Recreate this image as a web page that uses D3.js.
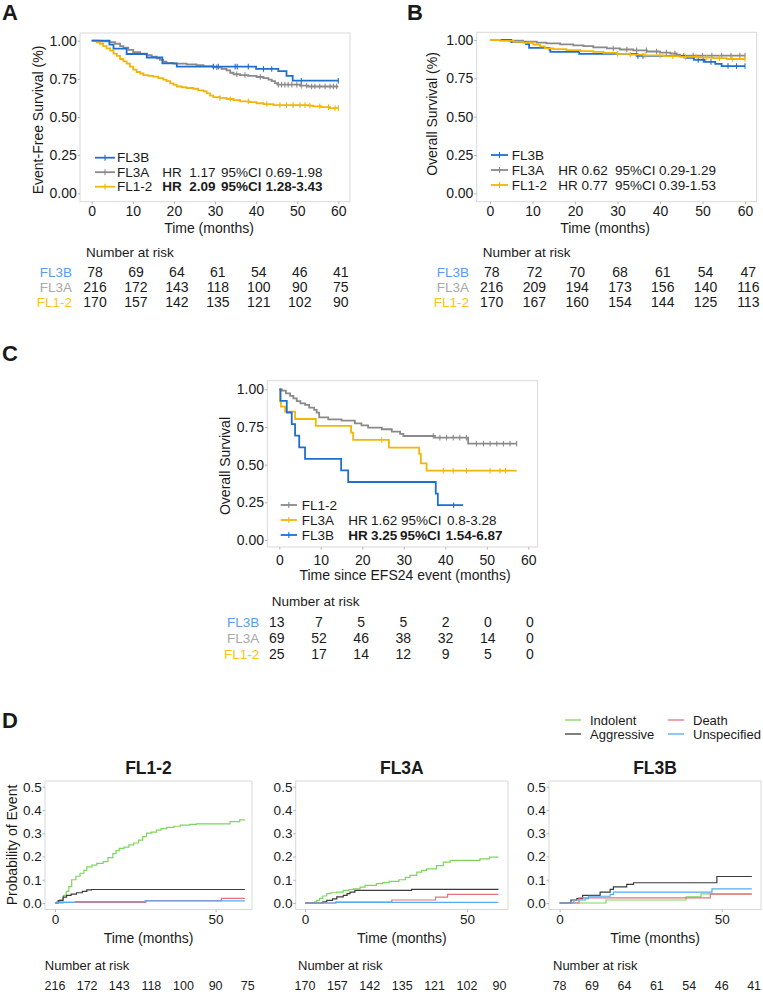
<!DOCTYPE html>
<html>
<head>
<meta charset="utf-8">
<script src="https://cdn.jsdelivr.net/npm/d3@7"></script>
<style>
  body { margin: 0; background: #fff; }
  text { font-family: "Liberation Sans", Arial, sans-serif; }
</style>
</head>
<body>
<svg id="fig" width="763" height="992" fill="#1a1a1a"></svg>
<script>
// ---- months shown on KM x axes / at-risk tables
const months = [0, 10, 20, 30, 40, 50, 60];

// ---- Panel A: event-free survival, [month, survival] at each step
const efsFL3B = [[0,1],[4.3,0.974],[5.3,0.948],[8.5,0.913],[13.4,0.89],[17.2,0.852],[20.7,0.83],[40,0.815],[45.4,0.80],[47.4,0.77],[48.9,0.738],[60,0.738]];
const efsFL3A = [[0,1],[2,0.995],[4.5,0.99],[5.7,0.98],[6.9,0.965],[7.7,0.955],[8.9,0.94],[10.1,0.925],[11.8,0.915],[13.4,0.905],[14.6,0.895],[15.8,0.885],[16.6,0.875],[17.4,0.862],[18.2,0.855],[19.9,0.85],[23.1,0.845],[25.5,0.84],[27.2,0.833],[29.6,0.826],[31.6,0.815],[32.8,0.805],[33.7,0.79],[34.5,0.78],[36.1,0.775],[38.1,0.77],[40.1,0.762],[41.8,0.755],[43,0.745],[43.8,0.735],[44.6,0.722],[45.2,0.712],[50.7,0.705],[52.7,0.70],[60,0.70]];
const efsFL12 = [[0,1],[1.2,0.99],[2,0.98],[2.8,0.965],[3.6,0.95],[4.5,0.935],[5.3,0.915],[6.1,0.90],[6.9,0.88],[7.7,0.865],[8.5,0.85],[9.3,0.83],[10.1,0.81],[10.9,0.795],[11.8,0.785],[12.6,0.775],[13.8,0.77],[15,0.765],[16.2,0.755],[17.4,0.745],[18.2,0.735],[19.1,0.72],[19.9,0.71],[20.7,0.70],[21.9,0.695],[23.1,0.69],[24.7,0.685],[25.9,0.675],[27.2,0.668],[28,0.655],[28.8,0.64],[29.6,0.63],[31.2,0.625],[32.8,0.618],[34.5,0.61],[36.1,0.603],[38.5,0.597],[40.1,0.59],[41.8,0.585],[44.2,0.578],[52.7,0.575],[53.9,0.57],[55.9,0.565],[58,0.558],[60,0.558]];
const efsCensFL3B = [29.6,30.8,34.9,35.4,38.1,41.8,43.8,51,60];
const efsCensFL3A = [30.4,35.3,37.3,41,45.4,46.2,47,47.8,48.7,49.9,51,52.3,53.5,54.3,55.5,56.8,58,58.8,59.6];
const efsCensFL12 = [31.2,33.7,38.1,42.6,45.8,47.4,49,50.7,51.9,53.1,55.5,57.6,59.2,60];
const efsRiskFL3B = [78,69,64,61,54,46,41];
const efsRiskFL3A = [216,172,143,118,100,90,75];
const efsRiskFL12 = [170,157,142,135,121,102,90];

// ---- Panel B: overall survival
const osFL3B = [[0,1],[5,0.987],[8.5,0.974],[9.2,0.948],[14,0.935],[14.2,0.922],[21,0.909],[34.5,0.896],[46,0.883],[48,0.87],[50.5,0.857],[53,0.844],[54.5,0.83],[60,0.83]];
const osFL3A = [[0,1],[4.7,0.995],[7.8,0.99],[11,0.983],[13.3,0.978],[16.5,0.972],[19.6,0.965],[22,0.96],[24.3,0.952],[27.5,0.945],[30.6,0.938],[33.7,0.932],[36.9,0.925],[40,0.918],[42.4,0.912],[43.9,0.905],[44.7,0.898],[60,0.898]];
const osFL12 = [[0,1],[2.4,0.994],[5.5,0.988],[7.8,0.982],[10.2,0.97],[11.8,0.958],[12.9,0.946],[14.9,0.94],[18,0.934],[21.2,0.928],[24.3,0.922],[26.7,0.916],[29.8,0.91],[32.9,0.905],[36.1,0.90],[40.8,0.895],[44.7,0.89],[49.4,0.885],[52.5,0.882],[55.7,0.876],[60,0.876]];
const osCensFL3B = [34.8,36,49,50.2,52,56,58,60];
const osCensFL3A = [29,32.2,34.5,36.8,39.2,41.5,43.5,45.6,47.8,50,52.2,54.5,56.7,58.8,60];
const osCensFL12 = [30,33,36.5,40,43,46,48.5,51,54,57,60];
const osRiskFL3B = [78,72,70,68,61,54,47];
const osRiskFL3A = [216,209,194,173,156,140,116];
const osRiskFL12 = [170,167,160,154,144,125,113];

// ---- Panel C: overall survival since EFS24 event
const postFL12 = [[0,1],[0.6,0.991],[1.6,0.973],[2.6,0.956],[3.4,0.94],[4.2,0.922],[5.1,0.907],[6.2,0.896],[7.2,0.878],[8.4,0.863],[9,0.845],[9.6,0.814],[11.8,0.80],[15,0.792],[18.2,0.774],[19.8,0.761],[21.4,0.746],[24.7,0.735],[27.1,0.719],[29.1,0.704],[29.9,0.69],[37.5,0.679],[45.5,0.639],[57.2,0.639]];
const postFL3A = [[0,1],[0.2,0.92],[0.4,0.885],[1.4,0.852],[3.8,0.803],[8.8,0.757],[17.3,0.712],[17.8,0.664],[26.4,0.613],[33.7,0.571],[34.1,0.509],[35.5,0.46],[57.2,0.46]];
const postFL3B = [[0,1],[0.3,0.923],[1.8,0.846],[3,0.769],[3.8,0.692],[4.8,0.615],[6.2,0.538],[14.9,0.462],[16.6,0.385],[37.7,0.308],[38.2,0.231],[44.3,0.231]];
const postCensFL12 = [37.1,38.7,40.3,41.9,43.5,45.1,47.5,49.2,50.8,52.4,54,55.6,57.2];
const postCensFL3A = [24.7,39.5,41.9,45.1,50.8,53.2,54.5];
const postCensFL3B = [42];
const postRiskFL3B = [13,7,5,5,2,0,0];
const postRiskFL3A = [69,52,46,38,32,14,0];
const postRiskFL12 = [25,17,14,12,9,5,0];

// ---- Panel D: cumulative incidence of event type, [month, probability]
const indFL12 = [[0,0],[0.5,0.005],[1.5,0.015],[2.6,0.033],[3.5,0.05],[4.3,0.07],[5.2,0.1],[6.5,0.115],[7.8,0.128],[9,0.14],[9.9,0.155],[11.5,0.163],[13,0.17],[15,0.178],[16.5,0.195],[18,0.212],[19,0.225],[20,0.235],[21.5,0.24],[23,0.25],[24.5,0.258],[26,0.27],[27.3,0.285],[28.5,0.3],[30,0.305],[31.6,0.313],[33,0.32],[34.8,0.325],[37,0.33],[39,0.335],[42,0.338],[44,0.34],[54.5,0.35],[57.5,0.357],[59.1,0.357]];
const aggFL12 = [[0,0],[1,0.01],[2.5,0.025],[3.6,0.033],[5,0.038],[6.7,0.044],[8.5,0.05],[9.9,0.056],[11.4,0.058],[59.1,0.058]];
const deaFL12 = [[0,0],[2.5,0.003],[28.3,0.01],[51.8,0.02],[59.1,0.02]];
const unsFL12 = [[0,0],[1,0.003],[6.4,0.006],[28,0.009],[59.1,0.009]];
const indFL3A = [[0,0],[3,0.005],[3.6,0.011],[4.5,0.02],[5.5,0.03],[6.7,0.04],[8,0.044],[9.8,0.047],[11.8,0.054],[13.5,0.058],[15,0.061],[17,0.068],[18.5,0.076],[22,0.083],[24,0.088],[26,0.093],[29,0.1],[31,0.11],[32.4,0.119],[34.5,0.133],[36,0.14],[37.5,0.147],[40.6,0.161],[42.7,0.176],[44.8,0.183],[54,0.19],[57,0.197],[59.7,0.197]];
const aggFL3A = [[0,0],[5.5,0.005],[6.7,0.011],[8.5,0.018],[9.8,0.026],[11.8,0.033],[13,0.04],[13.9,0.047],[15.4,0.054],[32.9,0.059],[59.7,0.059]];
const deaFL3A = [[0,0],[9.5,0.004],[26.8,0.013],[40.3,0.025],[44,0.037],[59.7,0.037]];
const unsFL3A = [[0,0],[9.5,0.003],[59.7,0.003]];
const indFL3B = [[0,0],[14.3,0.013],[39,0.026],[43.6,0.039],[59.3,0.039]];
const aggFL3B = [[0,0],[3.5,0.013],[5.3,0.019],[7.1,0.033],[12.5,0.047],[15.6,0.059],[16.6,0.069],[20.7,0.08],[22.8,0.087],[48.5,0.114],[59.3,0.114]];
const deaFL3B = [[0,0],[6,0.022],[46.5,0.038],[59.3,0.038]];
const unsFL3B = [[0,0],[4.4,0.013],[7.9,0.019],[8.9,0.029],[15.6,0.037],[16.6,0.047],[47,0.061],[59.3,0.061]];
const cifRiskPanel1 = [216,172,143,118,100,90,75];
const cifRiskPanel2 = [170,157,142,135,121,102,90];
const cifRiskPanel3 = [78,69,64,61,54,46,41];

// ---- colours
const COL = { fl3b: "#1f6fd1", fl3a: "#8a8a8a", fl12: "#f2b60a" };
const LBL = { fl3b: "#5b9cf0", fl3a: "#a9a9a9", fl12: "#fcc21c" };
const CIF = { ind: "#7dd65c", agg: "#3b3b3b", dea: "#e8707f", uns: "#56abf2" };

const svg = d3.select("#fig");

// value of a step curve at time t
const stepAt = (curve, t) => {
  const i = d3.bisector(d => d[0]).right(curve, t) - 1;
  return curve[Math.max(0, i)][1];
};

const label = (txt, x, y) =>
  svg.append("text").attr("x", x).attr("y", y)
    .attr("font-size", 22).attr("font-weight", "bold").text(txt);

const yTitle = (txt, cx, cy, size) =>
  svg.append("text").attr("transform", `translate(${cx},${cy}) rotate(-90)`)
    .attr("text-anchor", "middle").attr("dy", "0.35em")
    .attr("font-size", size).text(txt);

const xTitle = (txt, cx, cy, size) =>
  svg.append("text").attr("x", cx).attr("y", cy).attr("dy", "0.35em")
    .attr("text-anchor", "middle").attr("font-size", size).text(txt);

function styleAxis(g, size) {
  g.select(".domain").remove();
  g.selectAll(".tick line").attr("stroke", "#b5b5b5");
  g.selectAll(".tick text").attr("font-size", size).attr("fill", "#1a1a1a");
}

// Kaplan-Meier panel
function kmPanel(o) {
  const x = d3.scaleLinear().domain([0, 60]).range(o.xr);
  const y = d3.scaleLinear().domain([0, 1]).range(o.yr);
  const [bx0, by0, bx1, by1] = o.box;
  const g = svg.append("g");

  g.append("rect")
    .attr("x", bx0).attr("y", by0)
    .attr("width", bx1 - bx0).attr("height", by1 - by0)
    .attr("fill", "#fff").attr("stroke", "#d9d9d9");

  g.append("g").attr("transform", `translate(${bx0},0)`)
    .call(d3.axisLeft(y).tickValues([0, 0.25, 0.5, 0.75, 1]).tickFormat(d3.format(".2f")).tickSize(2.5).tickPadding(0.8))
    .call(a => styleAxis(a, 14));
  g.append("g").attr("transform", `translate(0,${by1})`)
    .call(d3.axisBottom(x).tickValues(months).tickSize(2.5).tickPadding(o.xpad))
    .call(a => styleAxis(a, 14));

  const line = d3.line().x(d => x(d[0])).y(d => y(d[1])).curve(d3.curveStepAfter);
  o.series.forEach(s => {
    g.append("path").attr("d", line(s.data))
      .attr("fill", "none").attr("stroke", s.color).attr("stroke-width", 1.8);
    g.selectAll(null).data(s.cens).join("line")
      .attr("x1", t => x(t)).attr("x2", t => x(t))
      .attr("y1", t => y(stepAt(s.data, t)) - 2.8)
      .attr("y2", t => y(stepAt(s.data, t)) + 2.8)
      .attr("stroke", s.color).attr("stroke-width", 1.1);
  });

  // legend
  const L = o.legend;
  L.rows.forEach((r, i) => {
    const yy = L.y0 + i * L.dy;
    g.append("line").attr("x1", L.x0).attr("x2", L.x1).attr("y1", yy).attr("y2", yy)
      .attr("stroke", r.color).attr("stroke-width", 1.8);
    const mx = (L.x0 + L.x1) / 2;
    g.append("line").attr("x1", mx).attr("x2", mx).attr("y1", yy - 3).attr("y2", yy + 3)
      .attr("stroke", r.color).attr("stroke-width", 1.1);
    g.append("text").attr("x", L.tx).attr("y", yy).attr("dy", "0.35em")
      .attr("font-size", 13.5).text(r.name);
    if (r.hr) {
      const px = r.px || L.px;
      ["HR", r.hr, "95%CI", r.ci].forEach((p, j) => {
        g.append("text").attr("x", px[j]).attr("y", yy).attr("dy", "0.35em")
          .attr("font-size", 13.5).attr("font-weight", r.bold ? "bold" : null).text(p);
      });
    }
  });
}

// number-at-risk table
function riskTable(o) {
  const x = d3.scaleLinear().domain([0, 60]).range(o.xr);
  svg.append("text").attr("x", o.tx).attr("y", o.ty).attr("dy", "0.35em")
    .attr("font-size", 13.5).text("Number at risk");
  o.rows.forEach((r, i) => {
    const yy = o.y0 + i * o.dy;
    svg.append("text").attr("x", o.lx).attr("y", yy).attr("dy", "0.35em")
      .attr("text-anchor", "end").attr("font-size", 13.5).attr("fill", r.color).text(r.name);
    svg.selectAll(null).data(r.vals).join("text")
      .attr("x", (v, j) => x(months[j])).attr("y", yy).attr("dy", "0.35em")
      .attr("text-anchor", "middle").attr("font-size", 14).text(v => v);
  });
}

// cumulative incidence panel
function cifPanel(o) {
  const x = d3.scaleLinear().domain([0, 50]).range(o.xr);
  const y = d3.scaleLinear().domain([0, 0.5]).range([903, 786.7]);
  const [bx0, by0, bx1, by1] = o.box;
  const g = svg.append("g");
  g.append("rect")
    .attr("x", bx0).attr("y", by0)
    .attr("width", bx1 - bx0).attr("height", by1 - by0)
    .attr("fill", "#fff").attr("stroke", "#d9d9d9");
  g.append("g").attr("transform", `translate(${bx0},0)`)
    .call(d3.axisLeft(y).tickValues([0, 0.1, 0.2, 0.3, 0.4, 0.5]).tickFormat(d3.format(".1f")).tickSize(2.5).tickPadding(0.8))
    .call(a => styleAxis(a, 13.5));
  g.append("g").attr("transform", `translate(0,${by1})`)
    .call(d3.axisBottom(x).tickValues([0, 50]).tickSize(2.5).tickPadding(2))
    .call(a => styleAxis(a, 13.5));

  const line = d3.line().x(d => x(d[0])).y(d => y(d[1])).curve(d3.curveStepAfter);
  o.series.forEach(s => {
    g.append("path").attr("d", line(s.data))
      .attr("fill", "none").attr("stroke", s.color).attr("stroke-width", 1.2);
  });

  g.append("text").attr("x", (bx0 + bx1) / 2).attr("y", 768).attr("dy", "0.35em")
    .attr("text-anchor", "middle").attr("font-size", 17.5).attr("font-weight", "bold").text(o.title);
  xTitle("Time (months)", (bx0 + bx1) / 2, 938, 14);

  svg.append("text").attr("x", o.rtx).attr("y", 965).attr("dy", "0.35em")
    .attr("font-size", 13).text("Number at risk");
  svg.selectAll(null).data(o.risk).join("text")
    .attr("x", (v, j) => x(months[j])).attr("y", 986).attr("dy", "0.35em")
    .attr("text-anchor", "middle").attr("font-size", 12.5).text(v => v);
}

// ===== Panel A =====
label("A", 2, 20);
kmPanel({
  box: [80, 33, 350, 201.7], xr: [91.7, 338.3], yr: [193.3, 40.7], xpad: 2,
  series: [
    { data: efsFL3A, cens: efsCensFL3A, color: COL.fl3a },
    { data: efsFL12, cens: efsCensFL12, color: COL.fl12 },
    { data: efsFL3B, cens: efsCensFL3B, color: COL.fl3b }
  ],
  legend: {
    x0: 95, x1: 115, tx: 117, y0: 157.7, dy: 14.5, px: [162.3, 189.3, 221, 265.5],
    rows: [
      { name: "FL3B", color: COL.fl3b },
      { name: "FL3A", color: COL.fl3a, hr: "1.17", ci: "0.69-1.98" },
      { name: "FL1-2", color: COL.fl12, hr: "2.09", ci: "1.28-3.43", bold: true }
    ]
  }
});
yTitle("Event-Free Survival (%)", 38, 120, 14);
xTitle("Time (months)", 209, 228, 14);
riskTable({
  xr: [95, 340.7], tx: 86, ty: 252, lx: 72, y0: 272, dy: 15,
  rows: [
    { name: "FL3B", color: LBL.fl3b, vals: efsRiskFL3B },
    { name: "FL3A", color: LBL.fl3a, vals: efsRiskFL3A },
    { name: "FL1-2", color: LBL.fl12, vals: efsRiskFL12 }
  ]
});

// ===== Panel B =====
label("B", 407, 20);
kmPanel({
  box: [476.7, 32.3, 756.7, 201.7], xr: [490, 745], yr: [193.3, 40], xpad: 2,
  series: [
    { data: osFL3A, cens: osCensFL3A, color: COL.fl3a },
    { data: osFL3B, cens: osCensFL3B, color: COL.fl3b },
    { data: osFL12, cens: osCensFL12, color: COL.fl12 }
  ],
  legend: {
    x0: 491, x1: 508, tx: 511.7, y0: 155, dy: 15, px: [558.3, 581.5, 615, 659],
    rows: [
      { name: "FL3B", color: COL.fl3b },
      { name: "FL3A", color: COL.fl3a, hr: "0.62", ci: "0.29-1.29" },
      { name: "FL1-2", color: COL.fl12, hr: "0.77", ci: "0.39-1.53" }
    ]
  }
});
yTitle("Overall Survival (%)", 431.7, 114, 14);
xTitle("Time (months)", 605, 228, 14);
riskTable({
  xr: [491.7, 748.3], tx: 482.7, ty: 252, lx: 469, y0: 272, dy: 15,
  rows: [
    { name: "FL3B", color: LBL.fl3b, vals: osRiskFL3B },
    { name: "FL3A", color: LBL.fl3a, vals: osRiskFL3A },
    { name: "FL1-2", color: LBL.fl12, vals: osRiskFL12 }
  ]
});

// ===== Panel C =====
label("C", 2, 361);
kmPanel({
  box: [267.3, 380.7, 537.7, 547], xr: [279.3, 528.3], yr: [540, 389.3], xpad: 6,
  series: [
    { data: postFL12, cens: postCensFL12, color: COL.fl3a },
    { data: postFL3A, cens: postCensFL3A, color: COL.fl12 },
    { data: postFL3B, cens: postCensFL3B, color: COL.fl3b }
  ],
  legend: {
    x0: 280.7, x1: 297, tx: 301.7, y0: 505, dy: 15, px: [348.3, 371, 401, 447],
    rows: [
      { name: "FL1-2", color: COL.fl3a },
      { name: "FL3A", color: COL.fl12, hr: "1.62", ci: "0.8-3.28" },
      { name: "FL3B", color: COL.fl3b, hr: "3.25", ci: "1.54-6.87", bold: true, px: [348.3, 371, 400, 445.5] }
    ]
  }
});
yTitle("Overall Survival", 225, 466, 14);
xTitle("Time since EFS24 event (months)", 405, 575, 14);
riskTable({
  xr: [276.7, 530], tx: 271.7, ty: 601.7, lx: 259.3, y0: 622, dy: 16,
  rows: [
    { name: "FL3B", color: LBL.fl3b, vals: postRiskFL3B },
    { name: "FL3A", color: LBL.fl3a, vals: postRiskFL3A },
    { name: "FL1-2", color: LBL.fl12, vals: postRiskFL12 }
  ]
});

// ===== Panel D =====
label("D", 2, 728);
cifPanel({
  title: "FL1-2", box: [45, 781, 252, 909.5], xr: [55, 215.6], rtx: 44.8, risk: cifRiskPanel1,
  series: [
    { data: indFL12, color: CIF.ind }, { data: aggFL12, color: CIF.agg },
    { data: deaFL12, color: CIF.dea }, { data: unsFL12, color: CIF.uns }
  ]
});
cifPanel({
  title: "FL3A", box: [295.7, 781, 508, 909.5], xr: [305, 467], rtx: 298, risk: cifRiskPanel2,
  series: [
    { data: indFL3A, color: CIF.ind }, { data: aggFL3A, color: CIF.agg },
    { data: deaFL3A, color: CIF.dea }, { data: unsFL3A, color: CIF.uns }
  ]
});
cifPanel({
  title: "FL3B", box: [549, 781, 761, 909.5], xr: [559.6, 721.7], rtx: 553, risk: cifRiskPanel3,
  series: [
    { data: indFL3B, color: CIF.ind }, { data: aggFL3B, color: CIF.agg },
    { data: deaFL3B, color: CIF.dea }, { data: unsFL3B, color: CIF.uns }
  ]
});
yTitle("Probability of Event", 12, 845, 14);

// event-type legend
const cifLegend = [
  { name: "Indolent", color: CIF.ind, x: 565, y: 720 },
  { name: "Death", color: CIF.dea, x: 668, y: 720 },
  { name: "Aggressive", color: CIF.agg, x: 565, y: 734 },
  { name: "Unspecified", color: CIF.uns, x: 668, y: 734 }
];
cifLegend.forEach(d => {
  svg.append("line").attr("x1", d.x).attr("x2", d.x + 16).attr("y1", d.y).attr("y2", d.y)
    .attr("stroke", d.color).attr("stroke-width", 1.3);
  svg.append("text").attr("x", d.x + 25).attr("y", d.y).attr("dy", "0.35em")
    .attr("font-size", 13).text(d.name);
});
</script>
</body>
</html>
